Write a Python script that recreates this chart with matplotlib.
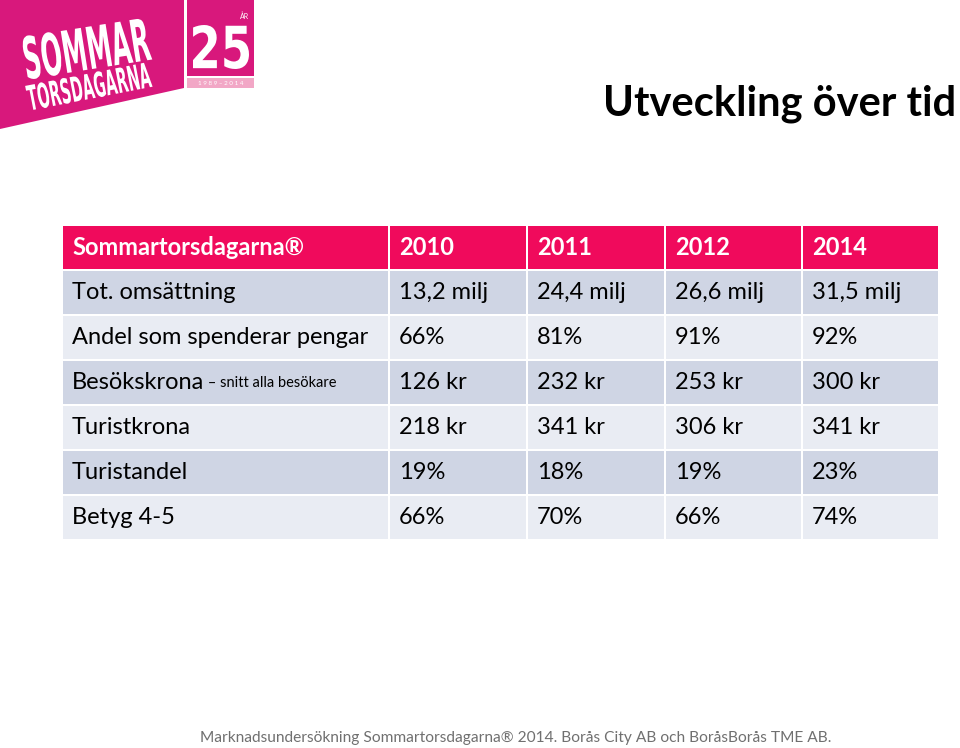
import matplotlib.pyplot as plt
import matplotlib.transforms as mtransforms
from matplotlib.patches import Rectangle, Polygon, PathPatch
from matplotlib.textpath import TextPath
from matplotlib.font_manager import FontProperties

plt.rcParams['font.family'] = ['Lato', 'DejaVu Sans']

# table content
header = ['Sommartorsdagarna®', '2010', '2011', '2012', '2014']
row_labels = ['Tot. omsättning', 'Andel som spenderar pengar', 'Besökskrona',
              'Turistkrona', 'Turistandel', 'Betyg 4-5']
row_notes = ['', '', '– snitt alla besökare', '', '', '']
values = [
    ['13,2 milj', '24,4 milj', '26,6 milj', '31,5 milj'],
    ['66%', '81%', '91%', '92%'],
    ['126 kr', '232 kr', '253 kr', '300 kr'],
    ['218 kr', '341 kr', '306 kr', '341 kr'],
    ['19%', '18%', '19%', '23%'],
    ['66%', '70%', '66%', '74%'],
]
footer = 'Marknadsundersökning Sommartorsdagarna® 2014. Borås City AB och BoråsBorås TME AB.'

pink = '#F00A5C'
dark_row = '#CFD5E4'
light_row = '#E9ECF3'
logo_pink = '#D8187C'

fig = plt.figure(figsize=(9.6, 7.48), dpi=100)
ax = fig.add_axes([0, 0, 1, 1])
ax.set_xlim(0, 960)
ax.set_ylim(748, 0)
ax.axis('off')


def squeezed_text(s, x, y, w, h, angle):
    # text stretched to a given box, baseline starting at (x, y)
    tp = TextPath((0, 0), s, size=1, prop=FontProperties(family='DejaVu Sans', weight='bold'))
    bb = tp.get_extents()
    tr = (mtransforms.Affine2D().translate(-bb.x0, -bb.y0)
          .scale(w / bb.width, -h / bb.height).rotate_deg(-angle).translate(x, y))
    ax.add_patch(PathPatch(tr.transform_path(tp), facecolor='white', edgecolor='none'))


# --- logo ---
ax.add_patch(Polygon([(0, 0), (184, 0), (184, 88), (0, 129)], closed=True,
                     facecolor=logo_pink, edgecolor='none'))
ax.add_patch(Rectangle((187, 0), 67, 76, facecolor=logo_pink, edgecolor='none'))
ax.add_patch(Rectangle((187, 78), 67, 10, facecolor='#F2A7C6', edgecolor='none'))
squeezed_text('SOMMAR', 28, 80, 126, 44, 9)
squeezed_text('TORSDAGARNA', 30, 111, 125, 26, 11)
squeezed_text('25', 193, 69, 56, 44, 0)
ax.text(245, 16, 'ÅR', color='white', fontsize=5, ha='center', va='center')
ax.text(221, 83, '1 9 8 9 – 2 0 1 4', color='white', fontsize=4.5,
        ha='center', va='center')

# --- title ---
ax.text(603, 104, 'Utveckling över tid', fontsize=30, fontweight='bold',
        ha='left', va='center', color='black')

# --- table ---
col_edges = [62, 389, 527, 665, 802, 939]
row_top = 225
row_h = 45
gap = 2


def cell(x0, x1, y0, color):
    ax.add_patch(Rectangle((x0 + gap / 2, y0 + gap / 2), x1 - x0 - gap, row_h - gap,
                           facecolor=color, edgecolor='none'))


for j, txt in enumerate(header):
    cell(col_edges[j], col_edges[j + 1], row_top, pink)
    ax.text(col_edges[j] + 10, row_top + row_h / 2, txt, color='white',
            fontsize=17, fontweight='bold', ha='left', va='center')

for i, lab in enumerate(row_labels):
    y0 = row_top + row_h * (i + 1)
    color = dark_row if i % 2 == 0 else light_row
    for j in range(5):
        cell(col_edges[j], col_edges[j + 1], y0, color)
    t = ax.text(col_edges[0] + 10, y0 + row_h / 2, lab, fontsize=17,
                ha='left', va='center', color='black')
    if row_notes[i]:
        ax.annotate(' ' + row_notes[i], xycoords=t, xy=(1, 0.5), fontsize=10.5,
                    ha='left', va='center', color='black')
    for j, v in enumerate(values[i]):
        ax.text(col_edges[j + 1] + 10, y0 + row_h / 2, v, fontsize=17,
                ha='left', va='center', color='black')

# --- footer ---
ax.text(200, 738, footer, fontsize=11.2, color='#707070', ha='left', va='center')

plt.savefig('out.png', dpi=100)
